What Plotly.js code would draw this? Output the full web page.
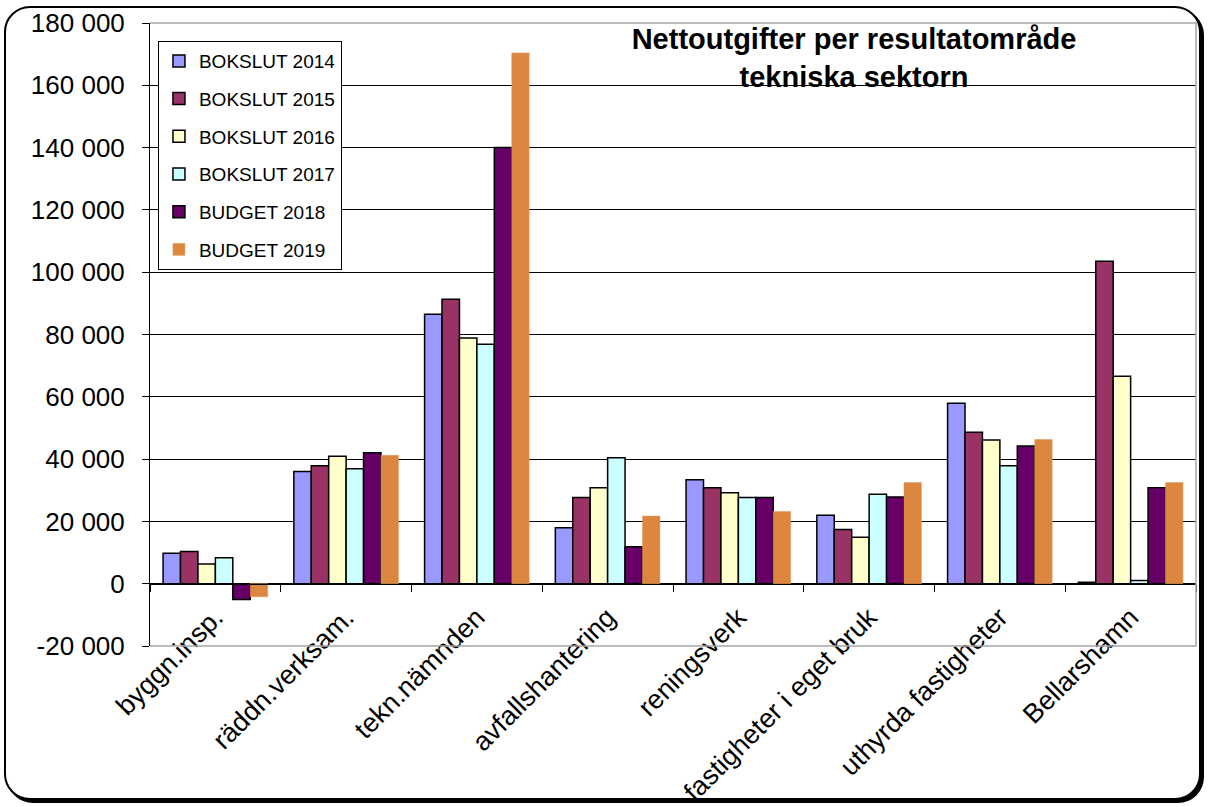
<!DOCTYPE html>
<html>
<head>
<meta charset="utf-8">
<script src="https://cdn.plot.ly/plotly-3.0.1.min.js"></script>
<style>
  html, body { margin: 0; padding: 0; background: #fff; }
  #frame {
    position: absolute; left: 4px; top: 6px; width: 1197px; height: 794px;
    border: 2px solid #000; border-radius: 26px; box-shadow: 3px 3px 0 #000;
    background: #fff; box-sizing: border-box;
  }
  #chart { position: absolute; left: 0; top: 0; width: 1209px; height: 807px; }
</style>
</head>
<body>
<div id="frame"></div>
<div id="chart"></div>
<script>
// ---- data ----
const categories = ['byggn.insp.', 'räddn.verksam.', 'tekn.nämnden', 'avfallshantering',
                    'reningsverk', 'fastigheter i eget bruk', 'uthyrda fastigheter', 'Bellarshamn'];
const seriesNames = ['BOKSLUT 2014', 'BOKSLUT 2015', 'BOKSLUT 2016', 'BOKSLUT 2017', 'BUDGET 2018', 'BUDGET 2019'];
const bokslut2014 = [9800, 36000, 86500, 18000, 33400, 22000, 57900, 500];
const bokslut2015 = [10300, 37900, 91300, 27700, 30800, 17400, 48600, 103500];
const bokslut2016 = [6300, 40900, 78900, 30800, 29200, 14900, 46100, 66600];
const bokslut2017 = [8300, 36900, 76900, 40400, 27700, 28700, 37900, 1000];
const budget2018 = [-5100, 42000, 140000, 11900, 27700, 27800, 44200, 30800];
const budget2019 = [-4200, 41200, 170400, 21700, 23200, 32500, 46300, 32500];
const yTickVals = [-20000, 0, 20000, 40000, 60000, 80000, 100000, 120000, 140000, 160000, 180000];
const yTickText = ['-20 000', '0', '20 000', '40 000', '60 000', '80 000', '100 000', '120 000', '140 000', '160 000', '180 000'];

// ---- styles ----
const colors = ['#9999FF', '#993366', '#FFFFCC', '#CCFFFF', '#660066', '#DD8640'];
const lineColors = ['#000', '#000', '#000', '#000', '#000', '#E29A60'];
const lineWidths = [1.5, 1.5, 1.5, 1.5, 1.5, 0.5];
const values = [bokslut2014, bokslut2015, bokslut2016, bokslut2017, budget2018, budget2019];

const FONT = '"Liberation Sans", Arial, sans-serif';

const traces = values.map((v, i) => ({
  type: 'bar',
  name: seriesNames[i],
  x: categories,
  y: v,
  legendgroup: 'g' + i,
  marker: { color: colors[i], line: { color: lineColors[i], width: lineWidths[i] } },
  hoverinfo: 'none'
}));

const layout = {
  width: 1209, height: 807,
  margin: { l: 150, r: 13, t: 23, b: 161, pad: 0 },
  paper_bgcolor: 'rgba(0,0,0,0)',
  plot_bgcolor: 'rgba(0,0,0,0)',
  font: { family: FONT, color: '#000' },
  barmode: 'group',
  bargap: 0.2,
  bargroupgap: 0,
  title: {
    text: '<b>Nettoutgifter per resultatområde<br>tekniska sektorn</b>',
    font: { family: FONT, size: 29, color: '#000' },
    x: 0.7064, xanchor: 'center', xref: 'container',
    y: 0.939, yanchor: 'middle', yref: 'container'
  },
  showlegend: true,
  legend: {
    x: 0.0076, y: 0.971, xanchor: 'left', yanchor: 'top',
    bgcolor: '#fff', bordercolor: '#000', borderwidth: 1,
    font: { family: FONT, size: 19, color: '#000' },
    traceorder: 'grouped', tracegroupgap: 10
  },
  xaxis: {
    type: 'category',
    anchor: 'free', position: 0.1,
    showline: true, linecolor: '#000', linewidth: 1,
    ticks: 'outside', tickson: 'boundaries', ticklen: 7, tickcolor: '#000', tickwidth: 1,
    tickangle: -45,
    ticklabelstandoff: 6,
    tickfont: { family: FONT, size: 27, color: '#000' },
    showgrid: false, zeroline: false
  },
  yaxis: {
    range: [-20000, 180000],
    tickmode: 'array', tickvals: yTickVals, ticktext: yTickText,
    showline: true, linecolor: '#000', linewidth: 1,
    ticks: 'outside', ticklen: 7, tickcolor: '#000', tickwidth: 1,
    ticklabelstandoff: 12,
    tickfont: { family: FONT, size: 26, color: '#000' },
    showgrid: true, gridcolor: '#000', gridwidth: 1,
    zeroline: true, zerolinecolor: '#000', zerolinewidth: 1
  },
  shapes: [{
    type: 'path', xref: 'paper', yref: 'paper',
    path: 'M0,1 L1,1 L1,0 L0,0',
    line: { color: '#A6A6A6', width: 1.5 },
    layer: 'above'
  }]
};

Plotly.newPlot('chart', traces, layout, { displayModeBar: false, staticPlot: true });
</script>
</body>
</html>
